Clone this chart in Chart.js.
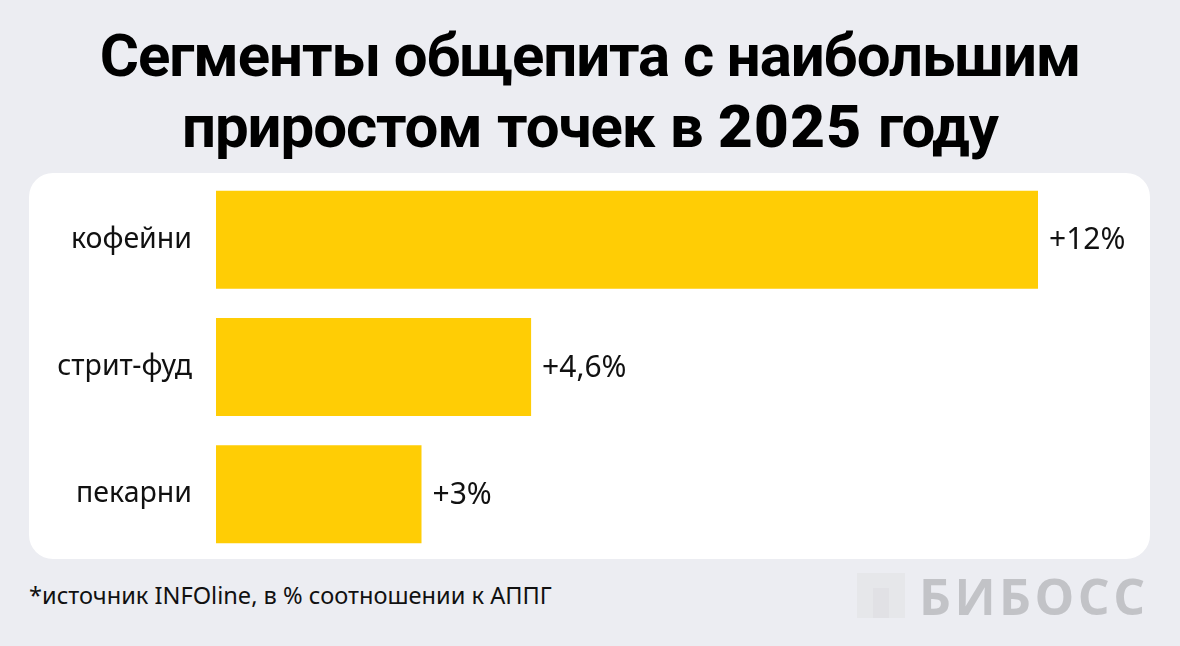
<!DOCTYPE html>
<html lang="ru">
<head>
<meta charset="utf-8">
<script src="https://cdn.jsdelivr.net/npm/chart.js@4"></script>
<style>
  html, body { margin: 0; padding: 0; }
  body { width: 1180px; height: 646px; background: #ecedf2; position: relative; overflow: hidden; font-family: "Noto Sans", sans-serif; }
  h1 { position: absolute; left: 0; top: 20px; width: 1180px; margin: 0; text-align: center; font: 700 60px/71px "Roboto", sans-serif; letter-spacing: -1.1px; color: #000; }
  h1 span { word-spacing: 1.5px; }
  h1 b { letter-spacing: 1.4px; }
  .card { position: absolute; left: 29px; top: 173px; width: 1121px; height: 386px; background: #fff; border-radius: 24px; }
  canvas { position: absolute; left: 29px; top: 173px; }
  .note { position: absolute; left: 29px; top: 579px; font-size: 23.6px; color: #111; }
  .logo { position: absolute; left: 919px; top: 562px; font: 700 50px/68px "Open Sans", sans-serif; letter-spacing: 3.5px; color: #c2c3c7; }
  .mark { position: absolute; left: 857px; top: 573px; width: 48px; height: 45px; background: #e6e7ea; }
  .mark i { position: absolute; left: 16px; top: 15px; width: 16px; height: 30px; background: #e1e1e5; }
</style>
</head>
<body>
<h1>Сегменты общепита с наибольшим<br><span>приростом точек в <b>2025</b> году</span></h1>
<div class="card"></div>
<canvas id="chart" width="1121" height="386"></canvas>
<div class="note">*источник INFOline, в % соотношении к АППГ</div>
<div class="mark"><i></i></div>
<div class="logo">БИБОСС</div>
<script>
const categories  = ["кофейни", "стрит-фуд", "пекарни"];
const values      = [12, 4.6, 3];
const valueLabels = ["+12%", "+4,6%", "+3%"];
const axisMax     = 13.635;

// value labels at the bar ends
const barLabels = {
  id: "barLabels",
  afterDatasetsDraw(chart) {
    const ctx = chart.ctx;
    ctx.save();
    ctx.font = '30px "Noto Sans"';
    ctx.fillStyle = "#111";
    ctx.textBaseline = "middle";
    chart.getDatasetMeta(0).data.forEach((bar, i) => {
      ctx.fillText(valueLabels[i], bar.x + 11, bar.y + 1);
    });
    ctx.restore();
  }
};

new Chart(document.getElementById("chart"), {
  type: "bar",
  data: {
    labels: categories,
    datasets: [{ data: values, backgroundColor: "#ffcd05", barPercentage: 1, categoryPercentage: 0.769 }]
  },
  options: {
    indexAxis: "y",
    responsive: false,
    animation: false,
    layout: { padding: { left: 0, right: 0, top: 3, bottom: 1 } },
    plugins: { legend: { display: false }, tooltip: { enabled: false } },
    scales: {
      x: { display: false, min: 0, max: axisMax },
      y: {
        afterFit(axis) { axis.width = 187; axis.paddingTop = 0; axis.paddingBottom = 0; },
        border: { display: false },
        grid: { display: false },
        ticks: { color: "#111", font: { family: "Noto Sans", size: 28.5 }, padding: 16 }
      }
    }
  },
  plugins: [barLabels]
});
</script>
</body>
</html>
